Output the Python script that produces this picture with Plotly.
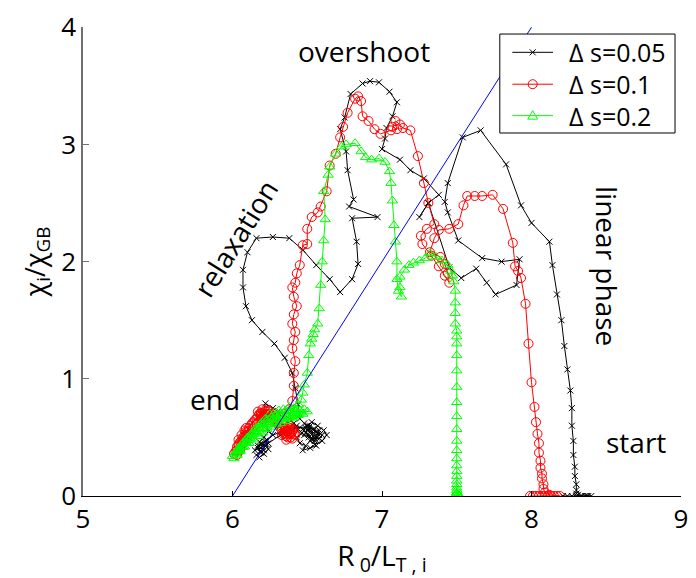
import plotly.graph_objects as go

# Trajectories in the (R0/LT,i , chi_i/chi_GB) plane for three step sizes
black_x = [8.21, 8.24, 8.27, 8.30, 8.33, 8.36, 8.38, 8.40, 8.37, 8.34, 8.31, 8.30,
           8.30, 8.30, 8.29, 8.29, 8.28, 8.28, 8.27, 8.27, 8.26, 8.24, 8.22, 8.20, 8.17, 8.14, 8.12,
           8.00, 7.93, 7.83, 7.66, 7.54, 7.44, 7.42, 7.44, 7.51, 7.67, 7.80, 7.92, 7.90, 7.76, 7.70,
           7.63, 7.53, 7.45, 7.31, 7.25, 7.31, 7.38, 7.28, 7.19, 7.12, 7.00, 7.02, 7.03, 7.07, 7.10,
           7.05, 6.98, 6.92, 6.87, 6.79, 6.75, 6.72, 6.76, 6.77, 6.81, 6.78, 6.97, 6.80, 6.83, 6.84,
           6.80, 6.72, 6.65, 6.56, 6.47, 6.38, 6.27, 6.16, 6.10, 6.07, 6.07, 6.09, 6.13, 6.20, 6.28,
           6.35, 6.40, 6.42, 6.44,
           6.45, 6.48, 6.52, 6.50, 6.54, 6.58, 6.56, 6.52, 6.55, 6.60, 6.63, 6.61, 6.57, 6.53, 6.49,
           6.46, 6.43, 6.45, 6.49, 6.47, 6.52, 6.56, 6.53, 6.48, 6.44, 6.41, 6.38, 6.34, 6.30, 6.27,
           6.22, 6.20, 6.22, 6.24, 6.21, 6.18, 6.20, 6.23, 6.19, 6.16, 6.18, 6.21, 6.24, 6.22, 6.17,
           6.15, 6.19, 6.23, 6.27, 6.33, 6.38, 6.43, 6.47, 6.51, 6.55, 6.58, 6.54, 6.50,
           6.52, 6.54, 6.57, 6.55, 6.51, 6.49, 6.51, 6.55, 6.58, 6.60, 6.56, 6.50, 6.42, 6.32,
           6.24, 6.20, 6.22, 6.19, 6.17, 6.19, 6.21]
black_y = [0.00, 0.00, 0.00, 0.00, 0.00, 0.00, 0.00, 0.00, 0.00, 0.00, 0.01, 0.02,
           0.05, 0.10, 0.17, 0.25, 0.35, 0.47, 0.60, 0.75, 0.90, 1.08, 1.28, 1.50, 1.72, 1.97, 2.17,
           2.33, 2.48, 2.83, 3.12, 3.06, 2.67, 2.51, 2.42, 2.18, 2.03, 2.00, 2.02, 1.80, 1.72, 1.82,
           1.94, 1.86, 1.95, 2.50, 2.38, 2.50, 2.57, 2.71, 2.78, 2.87, 2.96, 3.05, 3.14, 3.24, 3.36,
           3.45, 3.53, 3.54, 3.52, 3.43, 3.23, 3.13, 2.94, 2.78, 2.53, 2.47, 2.38, 2.37, 2.17, 1.98,
           1.85, 1.74, 1.85, 1.97, 2.10, 2.20, 2.21, 2.20, 2.08, 1.93, 1.78, 1.62, 1.50, 1.40, 1.30,
           1.18, 1.05, 0.92, 0.78,
           0.66, 0.62, 0.60, 0.56, 0.54, 0.56, 0.50, 0.47, 0.44, 0.47, 0.52, 0.56, 0.60, 0.63, 0.58,
           0.53, 0.50, 0.45, 0.43, 0.39, 0.41, 0.43, 0.49, 0.52, 0.57, 0.62, 0.66, 0.70, 0.72, 0.75,
           0.79, 0.70, 0.62, 0.55, 0.50, 0.46, 0.42, 0.44, 0.38, 0.35, 0.33, 0.36, 0.40, 0.47, 0.43,
           0.39, 0.41, 0.48, 0.52, 0.55, 0.58, 0.60, 0.57, 0.52, 0.47, 0.52, 0.57, 0.60,
           0.55, 0.51, 0.53, 0.57, 0.58, 0.54, 0.50, 0.49, 0.49, 0.52, 0.55, 0.59, 0.58, 0.52,
           0.45, 0.40, 0.43, 0.45, 0.41, 0.37, 0.39]

red_x = [7.99, 8.01, 8.03, 8.05, 8.07, 8.09, 8.11, 8.13, 8.15, 8.17, 8.19, 8.12, 8.09, 8.08,
         8.08, 8.07, 8.07, 8.06, 8.06, 8.05, 8.05, 8.04, 8.03, 8.02, 8.00, 7.98, 7.96, 7.93, 7.91, 7.89,
         7.875, 7.81, 7.74, 7.67, 7.62, 7.57, 7.545, 7.51, 7.45, 7.38, 7.35, 7.32, 7.39, 7.42, 7.44, 7.45,
         7.42, 7.38, 7.33, 7.27, 7.26, 7.30, 7.35, 7.31, 7.28, 7.24, 7.19, 7.14, 7.12, 7.09, 7.07, 7.10,
         7.06, 6.99, 6.95, 6.91, 6.87, 6.86, 6.84, 6.82, 6.77, 6.74, 6.72, 6.69, 6.65, 6.63, 6.59, 6.57,
         6.53, 6.50, 6.50, 6.47, 6.45, 6.43, 6.42, 6.40, 6.41, 6.43, 6.41, 6.40, 6.42, 6.41, 6.40, 6.42,
         6.41, 6.41, 6.40,
         6.38, 6.35, 6.31, 6.28, 6.24, 6.20, 6.17, 6.19, 6.22, 6.25, 6.21, 6.16, 6.13, 6.11, 6.09,
         6.07, 6.05, 6.03, 6.02, 6.01, 6.03, 6.05, 6.04, 6.07, 6.10, 6.13, 6.16, 6.19, 6.23, 6.27,
         6.30, 6.33, 6.35, 6.37, 6.40, 6.42, 6.41, 6.38, 6.35, 6.33, 6.36, 6.39, 6.37, 6.34, 6.31,
         6.28, 6.25, 6.22, 6.18, 6.15, 6.12,
         6.10, 6.08, 6.06, 6.04, 6.03, 6.05, 6.07, 6.09, 6.11, 6.08, 6.06, 6.04, 6.09, 6.14,
         6.19, 6.24, 6.22, 6.19, 6.17, 6.20, 6.23, 6.26, 6.24, 6.21, 6.27, 6.32,
         6.36, 6.38, 6.40, 6.39, 6.37, 6.35, 6.34, 6.36, 6.39, 6.41, 6.40, 6.37]
red_y = [0.00, 0.00, 0.00, 0.00, 0.00, 0.00, 0.00, 0.00, 0.00, 0.00, 0.00, 0.01, 0.03, 0.06,
         0.10, 0.15, 0.19, 0.24, 0.30, 0.37, 0.45, 0.53, 0.63, 0.76, 0.97, 1.30, 1.64, 1.86, 1.92, 1.96,
         2.16, 2.45, 2.57, 2.56, 2.56, 2.56, 2.48, 2.32, 2.28, 2.27, 2.20, 2.08, 2.04, 1.98, 1.90, 1.82,
         1.88, 1.96, 2.05, 2.15, 2.22, 2.28, 2.32, 2.50, 2.67, 2.90, 3.12, 3.14, 3.17, 3.20, 3.15, 3.13,
         3.12, 3.09, 3.13, 3.20, 3.24, 3.37, 3.41, 3.39, 3.27, 3.15, 3.06, 2.92, 2.82, 2.60, 2.47, 2.42,
         2.38, 2.28, 2.15, 2.14, 1.97, 1.90, 1.82, 1.78, 1.70, 1.62, 1.55, 1.47, 1.40, 1.33, 1.26, 1.15,
         1.05, 0.94, 0.81,
         0.74, 0.70, 0.68, 0.71, 0.73, 0.74, 0.72, 0.68, 0.70, 0.67, 0.65, 0.66, 0.62, 0.58, 0.55,
         0.50, 0.46, 0.42, 0.38, 0.36, 0.35, 0.39, 0.44, 0.47, 0.52, 0.57, 0.62, 0.66, 0.69, 0.66,
         0.62, 0.58, 0.54, 0.50, 0.49, 0.52, 0.57, 0.60, 0.57, 0.52, 0.48, 0.53, 0.57, 0.61, 0.60,
         0.64, 0.70, 0.72, 0.70, 0.65, 0.60,
         0.55, 0.51, 0.47, 0.43, 0.39, 0.41, 0.45, 0.49, 0.53, 0.56, 0.52, 0.48, 0.58, 0.63,
         0.70, 0.70, 0.73, 0.71, 0.68, 0.66, 0.67, 0.69, 0.72, 0.69, 0.63, 0.58,
         0.55, 0.53, 0.55, 0.58, 0.59, 0.56, 0.53, 0.51, 0.50, 0.53, 0.57, 0.56]

green_x = [7.52, 7.50, 7.49, 7.51, 7.50, 7.50, 7.50, 7.50, 7.50, 7.50, 7.50, 7.50, 7.50, 7.50,
           7.50, 7.50, 7.50, 7.50, 7.50, 7.50, 7.50, 7.50, 7.50, 7.50, 7.50, 7.49, 7.49, 7.49, 7.49,
           7.48, 7.47, 7.46, 7.44, 7.40, 7.36, 7.32, 7.29, 7.25, 7.21, 7.18, 7.15, 7.12, 7.12, 7.13,
           7.11, 7.10, 7.10, 7.09, 7.08, 7.07, 7.06, 7.05, 7.02, 6.98, 6.93, 6.89, 6.86, 6.82, 6.76,
           6.73, 6.69, 6.65, 6.64, 6.61, 6.62, 6.61, 6.60, 6.59, 6.58, 6.57, 6.55, 6.54, 6.53, 6.52,
           6.51, 6.50, 6.48, 6.47,
           6.46, 6.44, 6.41, 6.38, 6.35, 6.32, 6.29, 6.26, 6.23, 6.20, 6.18, 6.15, 6.13, 6.10, 6.08,
           6.06, 6.04, 6.02, 6.00, 6.01, 6.03, 6.05, 6.07, 6.09, 6.11, 6.13, 6.16, 6.18, 6.21, 6.24,
           6.27, 6.30, 6.33, 6.36, 6.39, 6.42, 6.45, 6.48, 6.50, 6.47, 6.44, 6.41, 6.38, 6.35, 6.32,
           6.29, 6.26, 6.23, 6.20, 6.17, 6.14, 6.11, 6.08, 6.05, 6.02, 6.04, 6.07, 6.10, 6.13, 6.16,
           6.19, 6.22, 6.25, 6.28, 6.31, 6.34, 6.38, 6.42, 6.46,
           6.43, 6.40, 6.37, 6.34, 6.30, 6.27, 6.24, 6.21, 6.18, 6.15, 6.12, 6.09, 6.06, 6.03]
green_y = [0.00, 0.00, 0.00, 0.01, 0.02, 0.03, 0.05, 0.07, 0.10, 0.13, 0.17, 0.21, 0.26, 0.32,
           0.39, 0.47, 0.57, 0.68, 0.80, 0.93, 1.07, 1.20, 1.30, 1.36, 1.41, 1.47, 1.56, 1.65, 1.75,
           1.83, 1.88, 1.92, 1.97, 2.01, 2.04, 2.07, 2.03, 2.01, 1.99, 1.97, 1.93, 1.87, 1.78, 1.70,
           1.75, 1.85, 2.00, 2.17, 2.31, 2.52, 2.67, 2.77, 2.85, 2.88, 2.87, 2.89, 2.94, 3.01, 3.00,
           2.98, 2.92, 2.81, 2.74, 2.60, 2.36, 2.18, 2.00, 1.80, 1.60, 1.47, 1.42, 1.38, 1.34, 1.30,
           1.20, 1.05, 0.95, 0.88,
           0.82, 0.78, 0.75, 0.73, 0.72, 0.70, 0.69, 0.67, 0.65, 0.63, 0.60, 0.57, 0.54, 0.50, 0.47,
           0.44, 0.40, 0.37, 0.34, 0.32, 0.35, 0.38, 0.42, 0.45, 0.48, 0.52, 0.55, 0.58, 0.61, 0.63,
           0.65, 0.67, 0.68, 0.70, 0.71, 0.72, 0.73, 0.74, 0.72, 0.70, 0.69, 0.67, 0.66, 0.64, 0.62,
           0.61, 0.59, 0.57, 0.54, 0.51, 0.48, 0.45, 0.42, 0.39, 0.36, 0.41, 0.45, 0.49, 0.53, 0.58,
           0.62, 0.66, 0.70, 0.71, 0.73, 0.74, 0.76, 0.74, 0.71,
           0.70, 0.68, 0.67, 0.66, 0.65, 0.63, 0.61, 0.58, 0.55, 0.53, 0.49, 0.46, 0.42, 0.39]

# Reference line chi = 2 (R0/LT - 6)
ref_x = [6.0, 8.0]
ref_y = [0.0, 4.0]

x_ticks = [5, 6, 7, 8, 9]
y_ticks = [0, 1, 2, 3, 4]

series_names = ["\u0394 s=0.05", "\u0394 s=0.1", "\u0394 s=0.2"]
series_colors = ["#000000", "#ff0000", "#00ff00"]
series_symbols = ["x-thin-open", "circle-open", "triangle-up-open"]
series_sizes = [6, 9, 9]

FONT = "Open Sans"

fig = go.Figure()
for xs, ys, name, col, sym, sz in zip([black_x, red_x, green_x], [black_y, red_y, green_y],
                                      series_names, series_colors, series_symbols, series_sizes):
    fig.add_trace(go.Scatter(
        x=xs, y=ys, mode="lines+markers", name=name, showlegend=False,
        line=dict(color=col, width=1),
        marker=dict(symbol=sym, size=sz, color=col, line=dict(color=col, width=1)),
    ))
fig.add_trace(go.Scatter(
    x=ref_x, y=ref_y, mode="lines", showlegend=False,
    line=dict(color="#0000ff", width=1),
))

# Boxed legend in the upper right corner, laid out in plot-area fractions
leg_left, leg_right, leg_top, leg_bottom = 0.697, 0.990, 0.985, 0.774
leg_rows = [0.946, 0.878, 0.811]
line_x0, line_x1, text_x = 0.718, 0.786, 0.809
sym_x = (line_x0 + line_x1) / 2
# glyph outlines (pixel offsets) for the legend symbols
glyph_paths = [
    "M-3,-3 L3,3 M-3,3 L3,-3",
    None,
    "M-5,-3.5 L5,-3.5 L0,5 Z",
]
fig.add_shape(type="rect", xref="paper", yref="paper",
              x0=leg_left, x1=leg_right, y0=leg_bottom, y1=leg_top,
              line=dict(color="black", width=1), fillcolor="white", layer="above")
for ry, name, col, gp in zip(leg_rows, series_names, series_colors, glyph_paths):
    fig.add_shape(type="line", xref="paper", yref="paper",
                  x0=line_x0, x1=line_x1, y0=ry, y1=ry,
                  line=dict(color=col, width=1), layer="above")
    if gp is None:
        fig.add_shape(type="circle", xref="paper", yref="paper",
                      xsizemode="pixel", ysizemode="pixel", xanchor=sym_x, yanchor=ry,
                      x0=-4.5, x1=4.5, y0=-4.5, y1=4.5,
                      line=dict(color=col, width=1), fillcolor="rgba(0,0,0,0)", layer="above")
    else:
        fig.add_shape(type="path", xref="paper", yref="paper",
                      xsizemode="pixel", ysizemode="pixel", xanchor=sym_x, yanchor=ry,
                      path=gp, line=dict(color=col, width=1),
                      fillcolor="rgba(0,0,0,0)", layer="above")
    fig.add_annotation(xref="paper", yref="paper", x=text_x, y=ry, text=name,
                       showarrow=False, xanchor="left", yanchor="middle",
                       font=dict(family=FONT, size=25, color="black"))

labels = [
    ("overshoot", 6.88, 3.80, 0),
    ("relaxation", 6.02, 2.20, -58),
    ("linear phase", 8.50, 1.96, 90),
    ("end", 5.88, 0.83, 0),
    ("start", 8.70, 0.46, 0),
]
for text, lx, ly, ang in labels:
    fig.add_annotation(x=lx, y=ly, text=text, showarrow=False, textangle=ang,
                       font=dict(family=FONT, size=28, color="black"),
                       xanchor="center", yanchor="middle")

fig.update_layout(
    width=696, height=578,
    margin=dict(l=83, r=8, t=18, b=82),
    paper_bgcolor="white", plot_bgcolor="white",
    font=dict(family=FONT, size=26, color="black"),
    showlegend=False,
    xaxis=dict(
        range=[5, 9], tickvals=x_ticks, ticktext=[str(v) for v in x_ticks],
        showgrid=False, zeroline=False, showline=True, linecolor="black", linewidth=1,
        ticks="inside", ticklen=5, tickcolor="black", mirror=False,
        tickfont=dict(family=FONT, size=26), ticklabeloverflow="allow",
        title=dict(text="R<sub> 0</sub>/L<sub>T , i</sub>", font=dict(family=FONT, size=28), standoff=4),
    ),
    yaxis=dict(
        range=[0, 4.002], tickvals=y_ticks, ticktext=[str(v) for v in y_ticks],
        showgrid=False, zeroline=False, showline=True, linecolor="#707070", linewidth=1.5,
        ticks="inside", ticklen=6, tickcolor="#707070", mirror=False,
        tickfont=dict(family=FONT, size=26), ticklabeloverflow="allow",
        title=dict(text="\u03c7<sub>i</sub>/\u03c7<sub>GB</sub>", font=dict(family=FONT, size=27), standoff=8),
    ),
)

fig.write_html("out.html")
